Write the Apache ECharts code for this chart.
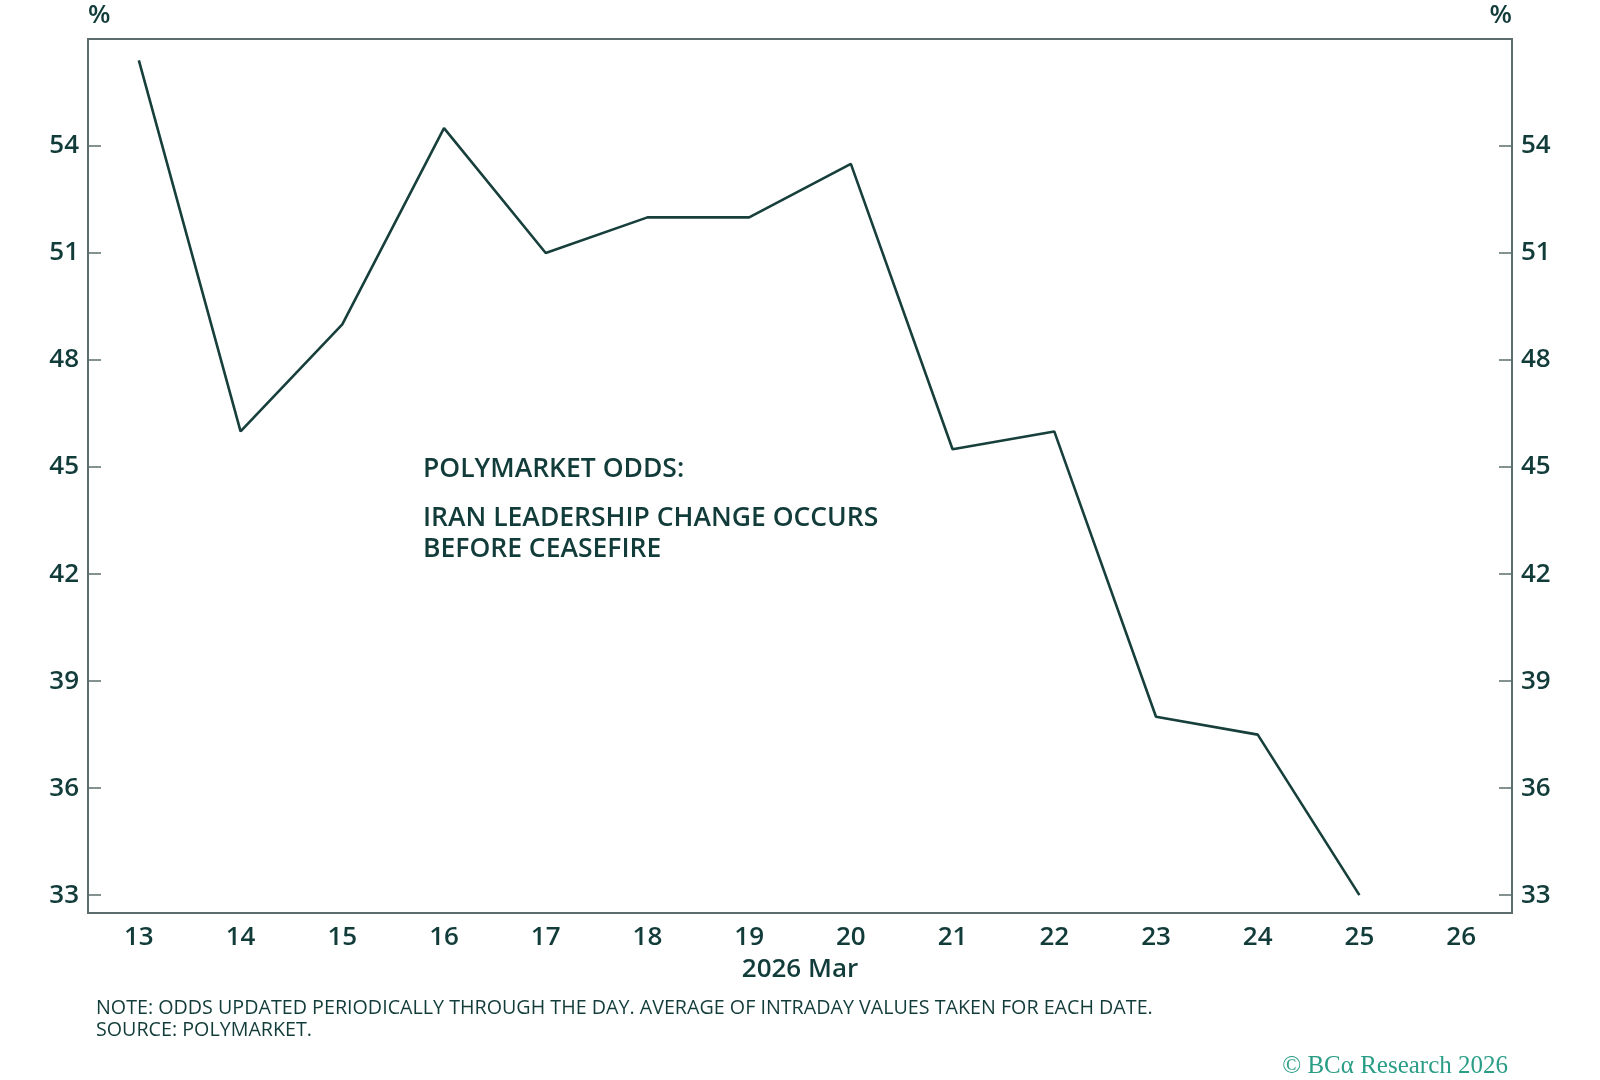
<!DOCTYPE html>
<html>
<head>
<meta charset="utf-8">
<script src="https://cdn.jsdelivr.net/npm/echarts@6/dist/echarts.min.js"></script>
<style>
html,body{margin:0;padding:0;background:#fff;}
#chart{width:1600px;height:1080px;}
</style>
</head>
<body>
<div id="chart"></div>
<script>
const days = ['13','14','15','16','17','18','19','20','21','22','23','24','25','26'];
const odds = [56.4, 46, 49, 54.5, 51, 52, 52, 53.5, 45.5, 46, 38, 37.5, 33, null];
const yTicks = [33, 36, 39, 42, 45, 48, 51, 54];

const textColor = '#123c3a';
const axisColor = '#5b6d6d';
const font = 'Open Sans';

const yAxisBase = {
  type: 'value',
  min: 32.5,
  max: 57,
  splitLine: { show: false },
  axisLine: { show: true, lineStyle: { color: axisColor, width: 2 } },
  axisTick: { show: true, inside: true, length: 13, customValues: yTicks, lineStyle: { color: axisColor, width: 1.5 } },
  axisLabel: { customValues: yTicks, color: textColor, fontFamily: font, fontSize: 26, fontWeight: 600, margin: 9 }
};

const chart = echarts.init(document.getElementById('chart'));
chart.setOption({
  backgroundColor: '#ffffff',
  animation: false,
  grid: { left: 88, right: 88, top: 39, bottom: 167, show: true, borderColor: axisColor, borderWidth: 2, backgroundColor: 'transparent' },
  xAxis: {
    type: 'category',
    data: days,
    boundaryGap: true,
    name: '2026 Mar',
    nameLocation: 'middle',
    nameGap: 44,
    nameTextStyle: { color: textColor, fontFamily: font, fontSize: 26, fontWeight: 600 },
    axisLine: { lineStyle: { color: axisColor, width: 2 } },
    axisTick: { inside: true, length: 6, lineStyle: { color: axisColor, width: 2 } },
    axisLabel: { color: textColor, fontFamily: font, fontSize: 26, fontWeight: 600, margin: 12 }
  },
  yAxis: [
    Object.assign({}, yAxisBase, { position: 'left' }),
    Object.assign({}, yAxisBase, { position: 'right' })
  ],
  series: [{
    type: 'line',
    data: odds,
    yAxisIndex: 0,
    symbol: 'none',
    lineStyle: { color: '#173f3b', width: 2.6 },
    connectNulls: false
  }],
  graphic: [
    { type: 'text', left: 88, top: 3, style: { text: '%', fill: textColor, font: '600 26px "Open Sans"' } },
    { type: 'text', right: 88, top: 3, style: { text: '%', fill: textColor, font: '600 26px "Open Sans"' } },
    { type: 'text', left: 423, top: 456, style: { text: 'POLYMARKET ODDS:', fill: textColor, font: '600 26.5px "Open Sans"' } },
    { type: 'text', left: 423, top: 503, style: { text: 'IRAN LEADERSHIP CHANGE OCCURS\nBEFORE CEASEFIRE', fill: textColor, font: '600 26.5px "Open Sans"', lineHeight: 31 } },
    { type: 'text', left: 96, top: 997, style: { text: 'NOTE: ODDS UPDATED PERIODICALLY THROUGH THE DAY. AVERAGE OF INTRADAY VALUES TAKEN FOR EACH DATE.\nSOURCE: POLYMARKET.', fill: textColor, font: '19.7px "Open Sans"', lineHeight: 22.5 } },
    { type: 'text', right: 92, top: 1054, style: { text: '© BCα Research 2026', fill: '#2a9d86', font: '25px "Liberation Serif"' } }
  ]
});
</script>
</body>
</html>
